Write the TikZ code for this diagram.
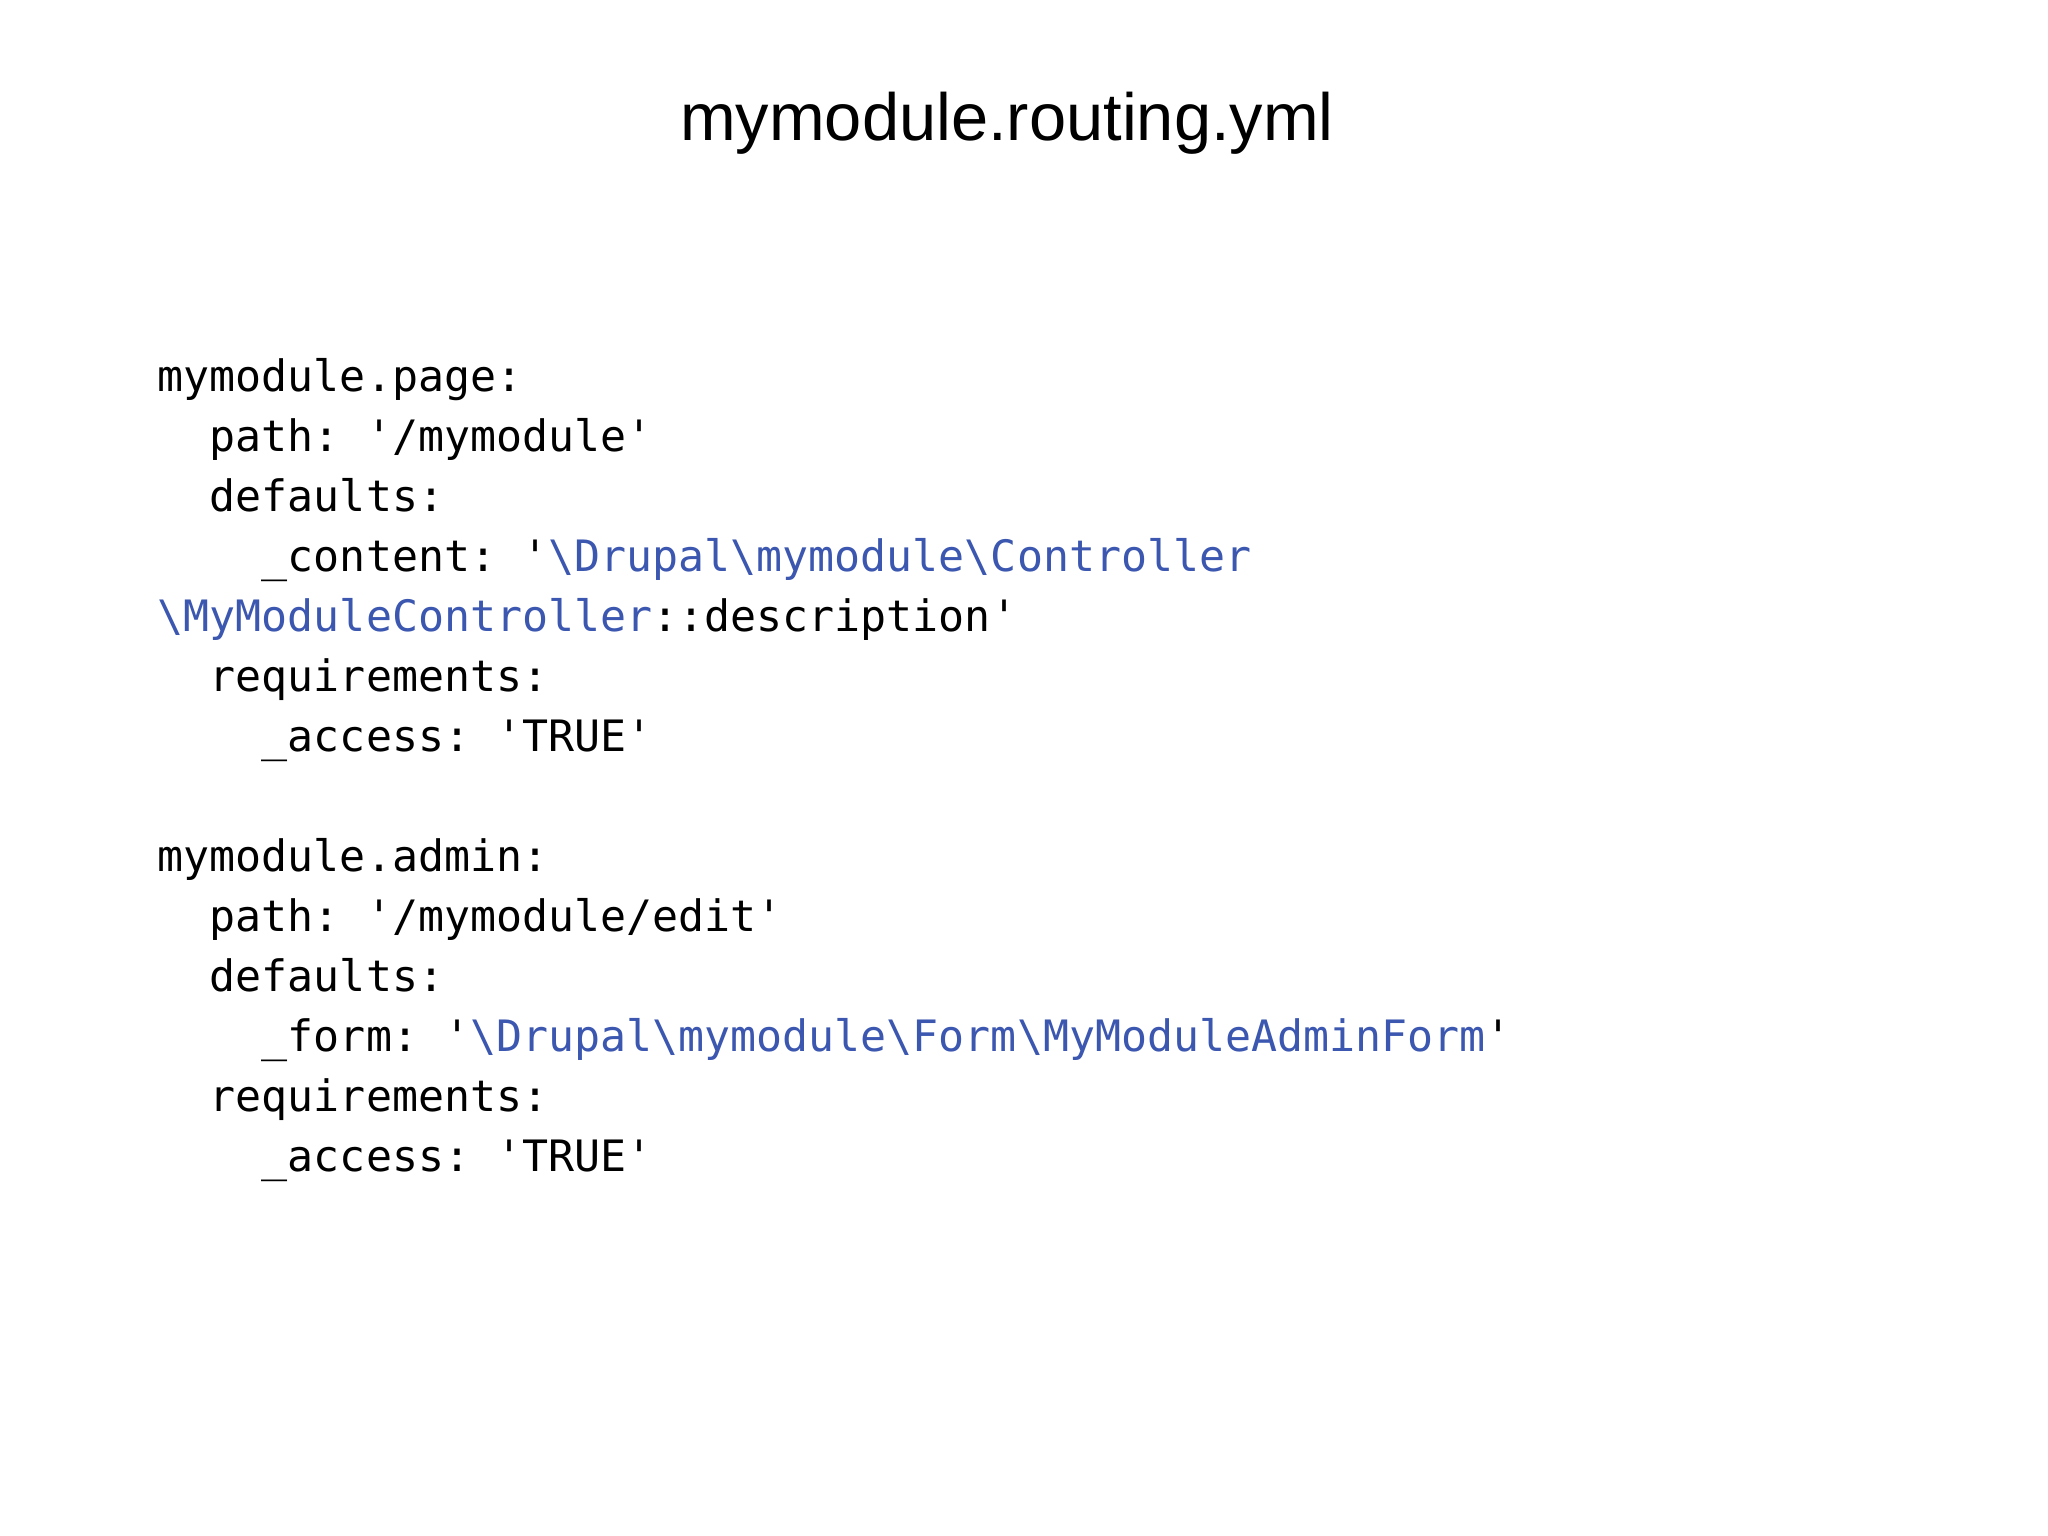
\documentclass[tikz,border=0pt]{standalone}
\usepackage{fontspec}
\setmainfont{Liberation Sans}
\setmonofont{DejaVu Sans Mono}
\definecolor{cblue}{HTML}{3B57B0}
\begin{document}
\begin{tikzpicture}[x=0.01cm,y=-0.01cm,
  code/.style={anchor=base west,inner sep=0,font=\ttfamily\fontsize{12.3}{14}\selectfont,text=black}]
\useasboundingbox[fill=white] (0,0) rectangle (2048,1536);
\node[anchor=base,inner sep=0,font=\fontsize{19}{22}\selectfont] (title) at (1007,140) {mymodule.routing.yml};
\def\L#1#2#3{\node[code] (#1) at (157,#2) {#3};}
\L{a1}{391}{mymodule.page:}
\L{a2}{451}{\ \ path: '/mymodule'}
\L{a3}{511}{\ \ defaults:}
\L{a4}{571}{\ \ \ \ \_content: '\textcolor{cblue}{\textbackslash Drupal\textbackslash mymodule\textbackslash Controller}}
\L{a5}{631}{\textcolor{cblue}{\textbackslash MyModuleController}::description'}
\L{a6}{691}{\ \ requirements:}
\L{a7}{751}{\ \ \ \ \_access: 'TRUE'}
\L{b1}{871}{mymodule.admin:}
\L{b2}{931}{\ \ path: '/mymodule/edit'}
\L{b3}{991}{\ \ defaults:}
\L{b4}{1051}{\ \ \ \ \_form: '\textcolor{cblue}{\textbackslash Drupal\textbackslash mymodule\textbackslash Form\textbackslash MyModuleAdminForm}'}
\L{b5}{1111}{\ \ requirements:}
\L{b6}{1171}{\ \ \ \ \_access: 'TRUE'}
\end{tikzpicture}
\end{document}
